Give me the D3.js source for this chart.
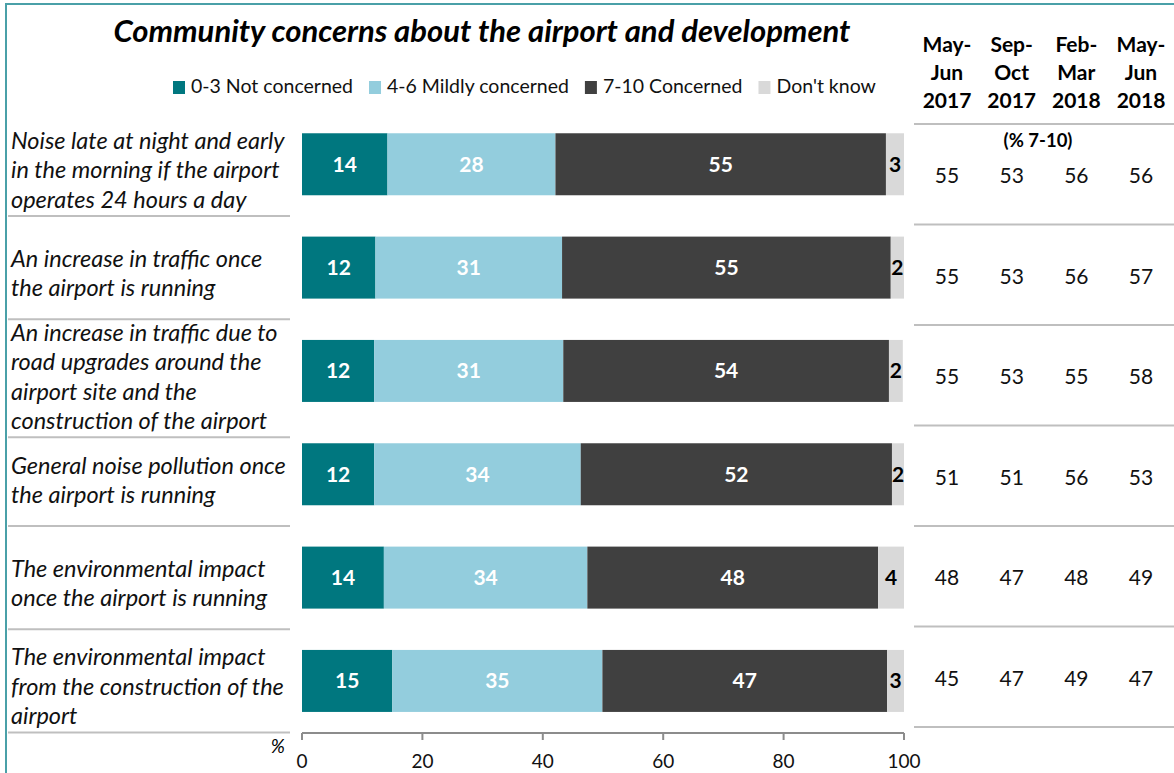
<!DOCTYPE html>
<meta charset="utf-8">
<head>
  <title>Community concerns about the airport</title>
  <style>
    body { margin: 0; background: #fff; }
    text { font-family: Lato, "Open Sans", sans-serif; }
  </style>
</head>
<body>
  <script src="https://d3js.org/d3.v7.min.js"></script>
  <div id="chart"></div>
  <script>
    // statements (each one is a list of the lines it is wrapped on)
    var statements = [
      ["Noise late at night and early", "in the morning if the airport", "operates 24 hours a day"],
      ["An increase in traffic once", "the airport is running"],
      ["An increase in traffic due to", "road upgrades around the", "airport site and the", "construction of the airport"],
      ["General noise pollution once", "the airport is running"],
      ["The environmental impact", "once the airport is running"],
      ["The environmental impact", "from the construction of the", "airport"]
    ];

    var seriesNames = ["0-3 Not concerned", "4-6 Mildly concerned", "7-10 Concerned", "Don't know"];

    // shares per statement, in the order of seriesNames
    var notConcerned    = [14.2, 12.2, 12.0, 12.0, 13.6, 15.0];
    var mildlyConcerned = [27.9, 31.0, 31.4, 34.3, 33.8, 34.9];
    var concerned       = [54.9, 54.6, 54.1, 51.7, 48.3, 47.3];
    var dontKnow        = [3.0, 2.2, 2.3, 2.0, 4.3, 2.8];

    // trend of % 7-10 by survey wave
    var waves = [["May-", "Jun", "2017"], ["Sep-", "Oct", "2017"], ["Feb-", "Mar", "2018"], ["May-", "Jun", "2018"]];
    var trend = [
      [55, 53, 56, 56],
      [55, 53, 56, 57],
      [55, 53, 55, 58],
      [51, 51, 56, 53],
      [48, 47, 48, 49],
      [45, 47, 49, 47]
    ];

    var xTicks = [0, 20, 40, 60, 80, 100];

    var colors = ["#00777f", "#93cddd", "#404040", "#d9d9d9"];
    var labelColors = ["#fff", "#fff", "#fff", "#000"];

    var W = 1174, H = 773;

    var svg = d3.select("#chart").append("svg")
      .attr("width", W)
      .attr("height", H);

    svg.append("rect").attr("width", W).attr("height", H).attr("fill", "#fff");

    // frame
    svg.append("path")
      .attr("d", "M6," + H + "V4H" + W)
      .attr("fill", "none")
      .attr("stroke", "#4aa0a8")
      .attr("stroke-width", 2);

    // title
    svg.append("text")
      .attr("x", 482).attr("y", 42)
      .attr("text-anchor", "middle")
      .style("font-size", "31px")
      .style("font-weight", "bold")
      .style("font-style", "italic")
      .text("Community concerns about the airport and development");

    // legend
    var lx = 173;
    seriesNames.forEach(function(name, i) {
      svg.append("rect")
        .attr("x", lx).attr("y", 81)
        .attr("width", 12).attr("height", 13)
        .attr("fill", colors[i]);
      var t = svg.append("text")
        .attr("x", lx + 18).attr("y", 93)
        .style("font-size", "19.5px")
        .attr("fill", "#111")
        .text(name);
      lx += 18 + t.node().getComputedTextLength() + 16;
    });

    // scales
    var x = d3.scaleLinear().domain([0, 100]).range([302, 904]);
    var y = d3.scaleBand()
      .domain(d3.range(statements.length))
      .range([112.6, 732.6])
      .paddingInner(0.4)
      .paddingOuter(0.2);

    // stack the four series
    var rows = statements.map(function(s, i) {
      return { i: i, a: notConcerned[i], b: mildlyConcerned[i], c: concerned[i], d: dontKnow[i] };
    });
    var stack = d3.stack().keys(["a", "b", "c", "d"]);
    var layers = stack(rows);

    // statement labels and row rules on the left
    var lineStep = 29.5;
    statements.forEach(function(lines, i) {
      var cy = y(i) + y.bandwidth() / 2 + 6;
      var first = cy - (lines.length - 1) * lineStep / 2 + 8;
      var last = first + (lines.length - 1) * lineStep;
      var t = svg.append("text")
        .attr("x", 11)
        .style("font-size", "23.5px")
        .style("font-style", "italic")
        .attr("fill", "#111");
      lines.forEach(function(l, k) {
        t.append("tspan").attr("x", 11).attr("y", first + k * lineStep).text(l);
      });

      var mid = i < statements.length - 1
        ? (y(i) + y.bandwidth() + y(i + 1)) / 2
        : y(i) + y.bandwidth() + (y.step() - y.bandwidth()) / 2 - 3;
      var ruleY = Math.max(mid, last + 8);
      svg.append("line")
        .attr("x1", 8).attr("x2", 290)
        .attr("y1", ruleY).attr("y2", ruleY)
        .attr("stroke", "#bfbfbf").attr("stroke-width", 2);
    });

    // bars
    var g = svg.append("g");
    layers.forEach(function(layer, li) {
      g.selectAll(".seg" + li)
        .data(layer)
        .enter().append("rect")
          .attr("x", function(d) { return x(d[0]); })
          .attr("y", function(d) { return y(d.data.i); })
          .attr("width", function(d) { return x(d[1]) - x(d[0]); })
          .attr("height", y.bandwidth())
          .attr("fill", colors[li]);

      g.selectAll(".lab" + li)
        .data(layer)
        .enter().append("text")
          .attr("x", function(d) { return (x(d[0]) + x(d[1])) / 2; })
          .attr("y", function(d) { return y(d.data.i) + y.bandwidth() / 2 + 7.5; })
          .attr("text-anchor", "middle")
          .attr("fill", labelColors[li])
          .style("font-size", "21px")
          .style("font-weight", "bold")
          .text(function(d) { return Math.round(d[1] - d[0]); });
    });

    // x axis
    var axisY = 733;
    var ax = svg.append("g").attr("transform", "translate(0," + axisY + ")");
    ax.append("line")
      .attr("x1", x(0)).attr("x2", x(100))
      .attr("stroke", "#8c8c8c").attr("stroke-width", 2);
    ax.selectAll(".tick")
      .data(xTicks)
      .enter().append("line")
        .attr("x1", function(d) { return x(d); })
        .attr("x2", function(d) { return x(d); })
        .attr("y1", 0).attr("y2", 7)
        .attr("stroke", "#8c8c8c").attr("stroke-width", 2);
    ax.selectAll(".tl")
      .data(xTicks)
      .enter().append("text")
        .attr("x", function(d) { return x(d); })
        .attr("y", 35)
        .attr("text-anchor", "middle")
        .style("font-size", "19px")
        .attr("fill", "#111")
        .text(function(d) { return d; });
    svg.append("text")
      .attr("x", 285).attr("y", 753)
      .attr("text-anchor", "end")
      .style("font-size", "19px")
      .style("font-style", "italic")
      .text("%");

    // trend table on the right
    var col = d3.scalePoint().domain(d3.range(waves.length)).range([947, 1141]);
    var ty = d3.scaleBand().domain(d3.range(statements.length)).range([124, 727]);

    waves.forEach(function(w, j) {
      w.forEach(function(line, k) {
        svg.append("text")
          .attr("x", col(j)).attr("y", 52 + k * 28)
          .attr("text-anchor", "middle")
          .style("font-size", "21px")
          .style("font-weight", "bold")
          .text(line);
      });
    });

    svg.append("line")
      .attr("x1", 914).attr("x2", W)
      .attr("y1", ty(0)).attr("y2", ty(0))
      .attr("stroke", "#bfbfbf").attr("stroke-width", 2);

    svg.append("text")
      .attr("x", 1038).attr("y", 147)
      .attr("text-anchor", "middle")
      .style("font-size", "18.5px")
      .style("font-weight", "bold")
      .text("(% 7-10)");

    trend.forEach(function(vals, i) {
      svg.append("line")
        .attr("x1", 914).attr("x2", W)
        .attr("y1", ty(i) + ty.bandwidth()).attr("y2", ty(i) + ty.bandwidth())
        .attr("stroke", "#bfbfbf").attr("stroke-width", 2);
      svg.selectAll(".v" + i)
        .data(vals)
        .enter().append("text")
          .attr("x", function(d, j) { return col(j); })
          .attr("y", ty(i) + ty.bandwidth() / 2 + 9)
          .attr("text-anchor", "middle")
          .style("font-size", "21px")
          .attr("fill", "#111")
          .text(function(d) { return d; });
    });
  </script>
</body>
